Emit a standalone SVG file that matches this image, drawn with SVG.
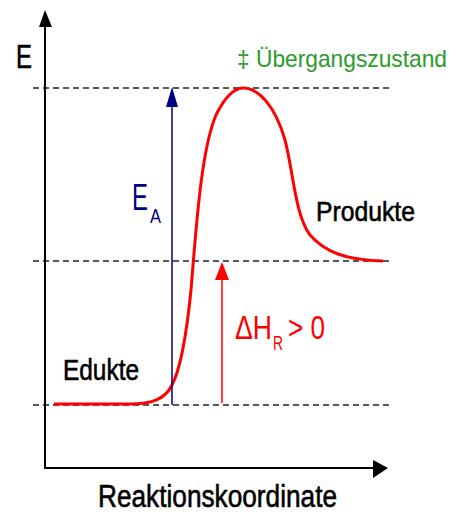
<svg xmlns="http://www.w3.org/2000/svg" width="459" height="513" viewBox="0 0 459 513">
<style>
.t{font-family:"Liberation Sans",Arial,sans-serif}
.k{fill:#000;stroke:#000;stroke-width:0.6}
.dash{stroke:#222;stroke-width:1.5;stroke-dasharray:6 4;fill:none}
.axis{stroke:#000;stroke-width:2;fill:none}
</style>
<rect width="459" height="513" fill="#fff"/>
<g id="guides">
<line class="dash" x1="33" y1="88" x2="390" y2="88"/>
<line class="dash" x1="33" y1="261" x2="390" y2="261"/>
<line class="dash" x1="33" y1="405" x2="390" y2="405"/>
</g>
<g id="axes">
<line class="axis" x1="45" y1="24" x2="45" y2="468"/>
<polygon points="45,10 39,27 52,27" fill="#000"/>
<line class="axis" x1="44" y1="468" x2="376" y2="468"/>
<polygon points="388,468 373,460 373,478" fill="#000"/>
<text class="t k" x="16" y="68" font-size="34" textLength="16" lengthAdjust="spacingAndGlyphs">E</text>
<text class="t k" x="98" y="507" font-size="31" textLength="239" lengthAdjust="spacingAndGlyphs">Reaktionskoordinate</text>
</g>
<g id="curve">
<path d="M54,404 L130,404 C150,404 165,400 172,385 C180,370 186,340 191,290 C196,230 201,150 216,115 C226,95 235,88 243,88 C258,88 275,105 285,140 C293,170 295,215 310,235 C325,252 345,260 383,261" fill="none" stroke="#ff0000" stroke-width="3"/>
</g>
<g id="ea">
<line x1="172" y1="105" x2="172" y2="405" stroke="#000080" stroke-width="1.5"/>
<polygon points="172,87 166,107 178,107" fill="#000080"/>
<text class="t" x="132" y="210" font-size="36" fill="#000080" textLength="16" lengthAdjust="spacingAndGlyphs">E</text>
<text class="t" x="150" y="223" font-size="20" fill="#000080" textLength="11" lengthAdjust="spacingAndGlyphs">A</text>
</g>
<g id="dh">
<line x1="222" y1="277" x2="222" y2="403" stroke="#ff0000" stroke-width="1.5"/>
<polygon points="222,262 215,280 229,280" fill="#ff0000"/>
<text class="t" x="235" y="339" font-size="33" fill="#ff0000" textLength="37" lengthAdjust="spacingAndGlyphs">ΔH</text>
<text class="t" x="273" y="350" font-size="20" fill="#ff0000" textLength="10" lengthAdjust="spacingAndGlyphs">R</text>
<text class="t" x="288" y="339" font-size="33" fill="#ff0000" textLength="37" lengthAdjust="spacingAndGlyphs">&gt; 0</text>
</g>
<g id="labels">
<text class="t" x="237" y="67" font-size="24" fill="#2a9a2a" textLength="210" lengthAdjust="spacingAndGlyphs">‡ Übergangszustand</text>
<text class="t k" x="316" y="221" font-size="28" textLength="99" lengthAdjust="spacingAndGlyphs">Produkte</text>
<text class="t k" x="63" y="380" font-size="29" textLength="76" lengthAdjust="spacingAndGlyphs">Edukte</text>
</g>
</svg>
